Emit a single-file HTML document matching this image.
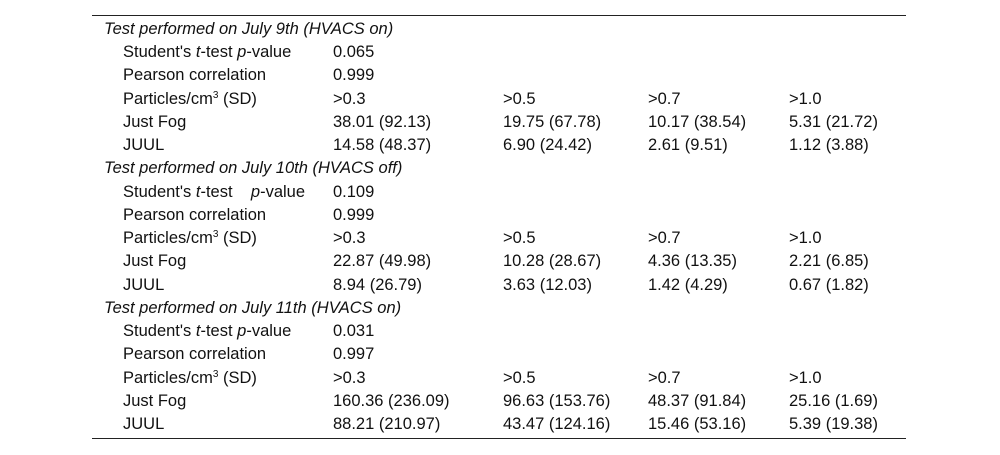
<!DOCTYPE html>
<html><head><meta charset="utf-8"><style>
html,body{margin:0;padding:0;background:#fff;width:1000px;height:455px;overflow:hidden;}
body{position:relative;font-family:"Liberation Sans",Arial,sans-serif;font-size:16.5px;color:#111;}
.rule{position:absolute;left:92px;width:814px;height:1px;background:#222;}
.row{position:absolute;left:0;width:1000px;height:18px;line-height:18px;white-space:nowrap;}
.row span{position:absolute;top:0;}
.h{left:104px;font-style:italic;}
.l{left:123px;}
.c1{left:333px;}.c2{left:503px;}.c3{left:648px;}.c4{left:789px;}
sup{font-size:10px;line-height:0;vertical-align:6px;}
</style></head><body>
<div class="rule" style="top:15px"></div>
<div class="rule" style="top:438px"></div>
<div id="t"></div>
<script>
const rows = [
 ["h","Test performed on July 9th (HVACS on)"],
 ["l","Student's <i>t</i>-test <i>p</i>-value","0.065"],
 ["l","Pearson correlation","0.999"],
 ["l","Particles/cm<sup>3</sup> (SD)",">0.3",">0.5",">0.7",">1.0"],
 ["l","Just Fog","38.01 (92.13)","19.75 (67.78)","10.17 (38.54)","5.31 (21.72)"],
 ["l","JUUL","14.58 (48.37)","6.90 (24.42)","2.61 (9.51)","1.12 (3.88)"],
 ["h","Test performed on July 10th (HVACS off)"],
 ["l","Student's <i>t</i>-test&nbsp;&nbsp;&nbsp;&nbsp;<i>p</i>-value","0.109"],
 ["l","Pearson correlation","0.999"],
 ["l","Particles/cm<sup>3</sup> (SD)",">0.3",">0.5",">0.7",">1.0"],
 ["l","Just Fog","22.87 (49.98)","10.28 (28.67)","4.36 (13.35)","2.21 (6.85)"],
 ["l","JUUL","8.94 (26.79)","3.63 (12.03)","1.42 (4.29)","0.67 (1.82)"],
 ["h","Test performed on July 11th (HVACS on)"],
 ["l","Student's <i>t</i>-test <i>p</i>-value","0.031"],
 ["l","Pearson correlation","0.997"],
 ["l","Particles/cm<sup>3</sup> (SD)",">0.3",">0.5",">0.7",">1.0"],
 ["l","Just Fog","160.36 (236.09)","96.63 (153.76)","48.37 (91.84)","25.16 (1.69)"],
 ["l","JUUL","88.21 (210.97)","43.47 (124.16)","15.46 (53.16)","5.39 (19.38)"]
];
const t=document.getElementById('t');
rows.forEach((r,i)=>{
  const d=document.createElement('div');
  d.className='row';
  d.style.top=(27+i*23.24-7)+'px';
  
  
  r.slice(1).forEach((c,j)=>{
    const s=document.createElement('span');
    s.className=j===0?r[0]:'c'+j;
    s.innerHTML=c;
    
    
    d.appendChild(s);
  });
  t.appendChild(d);
});
</script>
</body></html>
